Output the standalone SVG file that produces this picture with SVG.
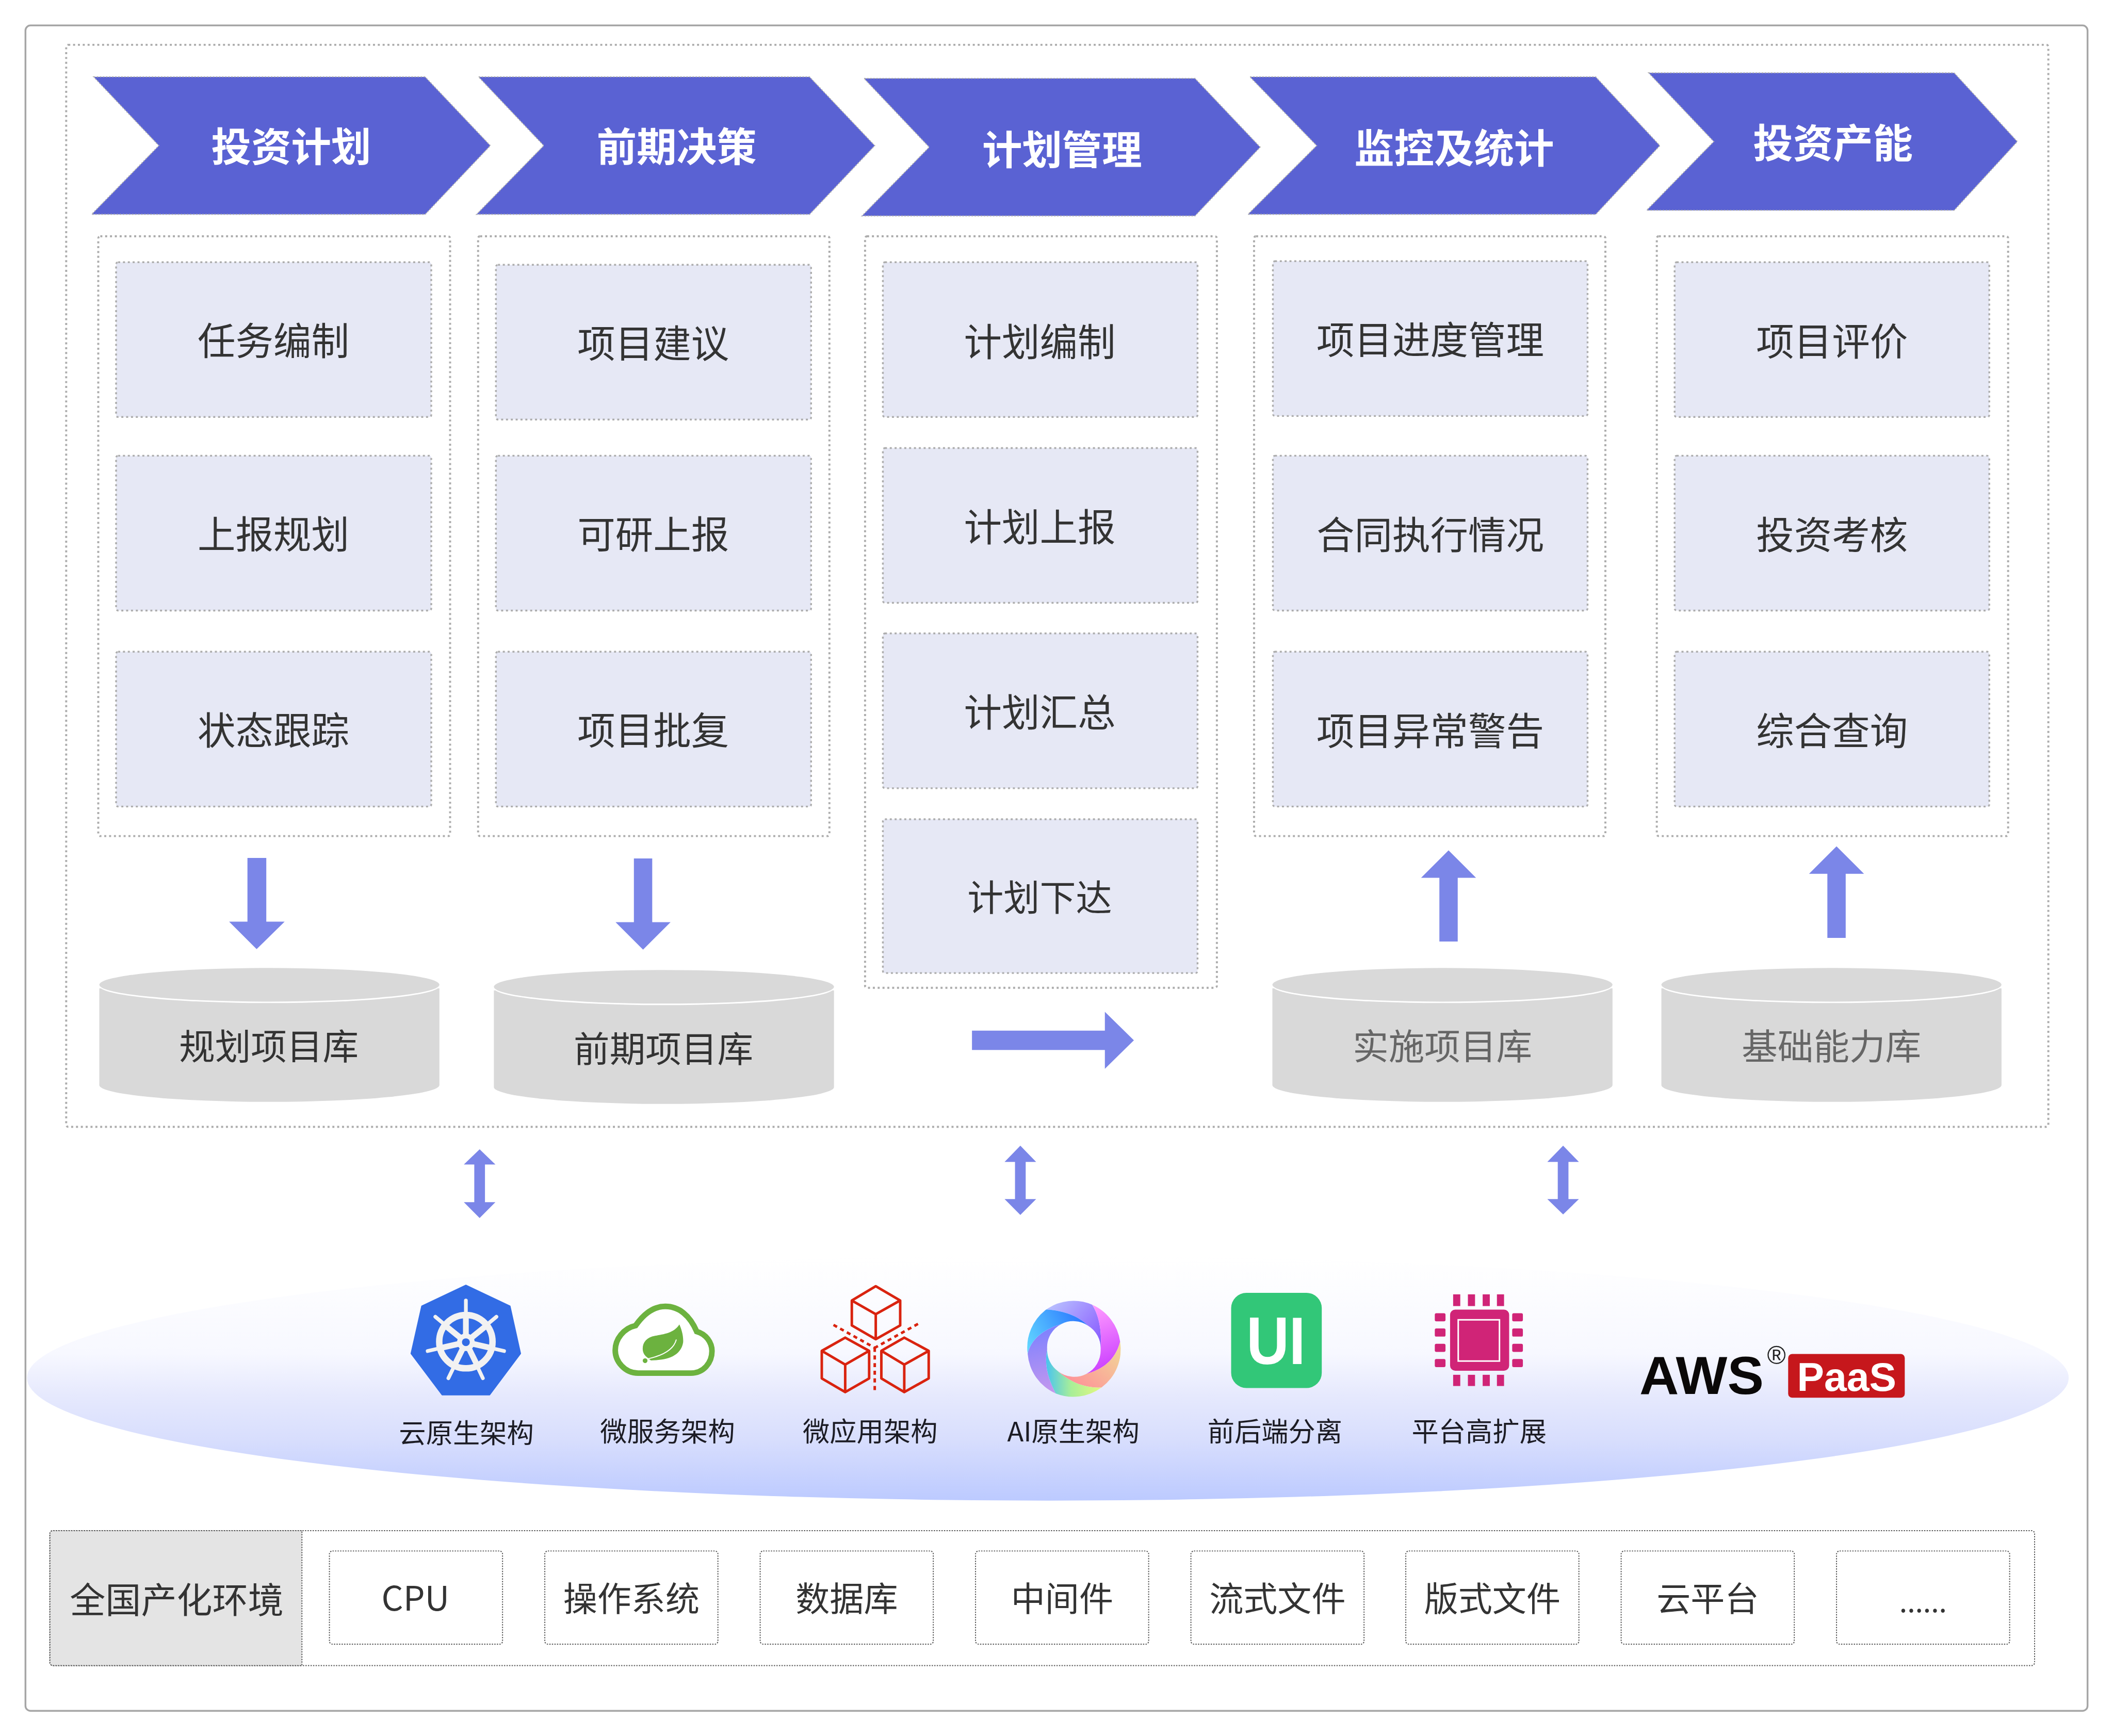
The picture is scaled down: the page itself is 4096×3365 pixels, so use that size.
<svg xmlns="http://www.w3.org/2000/svg" width="4096" height="3365" viewBox="0 0 4096 3365">
<style>
text{font-family:"Noto Sans CJK SC","Noto Sans",sans-serif;text-anchor:middle}
.dot{fill:none;stroke:#adadad;stroke-width:4;stroke-dasharray:4 5.5}
.chev{fill:#5a62d3;stroke:#adadad;stroke-width:2;stroke-dasharray:3 3}
.chevt{font-size:78.5px;font-weight:700;fill:#fff}
.item{fill:#e6e8f5;stroke:#adadad;stroke-width:3.5;stroke-dasharray:4 5.5}
.itemt{font-size:74.5px;fill:#333}
.cyl{fill:#d9d9d9}
.cylt{font-size:70.5px;fill:#333}
.arrow{fill:#7b86e8}
.lab{font-size:53px;fill:#1c1c24}
.env{fill:#fff;stroke:#555;stroke-width:2;stroke-dasharray:2.5 2.5}
.envt{font-size:67px;fill:#333}
.logo{font-family:"Liberation Sans",sans-serif}
</style>
<defs>
<linearGradient id="band" x1="0" y1="0" x2="0" y2="1">
<stop offset="0" stop-color="#ffffff"/>
<stop offset="0.4" stop-color="#f7f8ff"/>
<stop offset="0.57" stop-color="#e6e9fd"/>
<stop offset="0.75" stop-color="#d8defd"/>
<stop offset="1" stop-color="#bccaff"/>
</linearGradient>
<linearGradient id="ba" x1="0" y1="0" x2="1" y2="0.8"><stop offset="0" stop-color="#bcc8ff"/><stop offset="1" stop-color="#8a5cff"/></linearGradient>
<linearGradient id="bb" x1="0.3" y1="0" x2="0.5" y2="1"><stop offset="0" stop-color="#ff9cff"/><stop offset="1" stop-color="#c93cff"/></linearGradient>
<linearGradient id="bc" x1="1" y1="0" x2="0" y2="0.8"><stop offset="0" stop-color="#f0dc98"/><stop offset="1" stop-color="#ff8c98"/></linearGradient>
<linearGradient id="bd" x1="0" y1="0" x2="1" y2="0"><stop offset="0" stop-color="#48c4f0"/><stop offset="0.45" stop-color="#a8ee98"/><stop offset="1" stop-color="#e4f880"/></linearGradient>
<linearGradient id="be" x1="0.5" y1="0" x2="0.6" y2="1"><stop offset="0" stop-color="#7a80ff"/><stop offset="1" stop-color="#c498ee"/></linearGradient>
<linearGradient id="bf" x1="0" y1="0.8" x2="1" y2="0.4"><stop offset="0" stop-color="#60d4ff"/><stop offset="1" stop-color="#2c78ff"/></linearGradient>
</defs>
<rect width="4096" height="3365" fill="#fff"/>
<g transform="scale(0.98699)">
<g id="frame"><rect x="50" y="50" width="4050" height="3310" rx="10" fill="#fff" stroke="#a6a6a6" stroke-width="3.5"/></g>
<g id="process-frame"><rect x="130" y="88" width="3893" height="2125" rx="4" class="dot"/></g>

<g id="phase-1"><polygon class="chev" points="184,151 835,151 963,286 835,421 180,421 312,286"/><text class="chevt" x="572" y="317">投资计划</text></g>
<g id="phase-2"><polygon class="chev" points="940,151 1590,151 1718,286 1590,421 936,421 1068,286"/><text class="chevt" x="1329" y="317">前期决策</text></g>
<g id="phase-3"><polygon class="chev" points="1697,154 2347,154 2475,289 2347,424 1693,424 1825,289"/><text class="chevt" x="2086" y="323">计划管理</text></g>
<g id="phase-4"><polygon class="chev" points="2455,151 3134,151 3260,286 3134,421 2451,421 2586,286"/><text class="chevt" x="2856" y="320">监控及统计</text></g>
<g id="phase-5"><polygon class="chev" points="3238,143 3838,143 3962,278 3838,413 3234,413 3366,278"/><text class="chevt" x="3600" y="310">投资产能</text></g>

<g id="column-1"><rect class="dot" x="193" y="464" width="691" height="1178" rx="4"/>
<g id="n-1-1"><rect class="item" x="228" y="515" width="619" height="304" rx="4"/><text class="itemt" x="537" y="697">任务编制</text></g>
<g id="n-1-2"><rect class="item" x="228" y="895" width="619" height="304" rx="4"/><text class="itemt" x="537" y="1077">上报规划</text></g>
<g id="n-1-3"><rect class="item" x="228" y="1280" width="619" height="304" rx="4"/><text class="itemt" x="537" y="1462">状态跟踪</text></g>
</g>
<g id="column-2"><rect class="dot" x="939" y="464" width="690" height="1178" rx="4"/>
<g id="n-2-1"><rect class="item" x="974" y="520" width="619" height="304" rx="4"/><text class="itemt" x="1283" y="702">项目建议</text></g>
<g id="n-2-2"><rect class="item" x="974" y="895" width="619" height="304" rx="4"/><text class="itemt" x="1283" y="1077">可研上报</text></g>
<g id="n-2-3"><rect class="item" x="974" y="1280" width="619" height="304" rx="4"/><text class="itemt" x="1283" y="1462">项目批复</text></g>
</g>
<g id="column-3"><rect class="dot" x="1699" y="464" width="691" height="1476" rx="4"/>
<g id="n-3-1"><rect class="item" x="1734" y="515" width="618" height="304" rx="4"/><text class="itemt" x="2042" y="699">计划编制</text></g>
<g id="n-3-2"><rect class="item" x="1734" y="880" width="618" height="304" rx="4"/><text class="itemt" x="2042" y="1063">计划上报</text></g>
<g id="n-3-3"><rect class="item" x="1734" y="1244" width="618" height="304" rx="4"/><text class="itemt" x="2042" y="1427">计划汇总</text></g>
<g id="n-3-4"><rect class="item" x="1734" y="1609" width="618" height="302" rx="4"/><text class="itemt" x="2042" y="1789" style="font-size:71px">计划下达</text></g>
</g>
<g id="column-4"><rect class="dot" x="2463" y="464" width="690" height="1178" rx="4"/>
<g id="n-4-1"><rect class="item" x="2500" y="513" width="618" height="304" rx="4"/><text class="itemt" x="2809" y="695">项目进度管理</text></g>
<g id="n-4-2"><rect class="item" x="2500" y="895" width="618" height="304" rx="4"/><text class="itemt" x="2809" y="1078">合同执行情况</text></g>
<g id="n-4-3"><rect class="item" x="2500" y="1280" width="618" height="304" rx="4"/><text class="itemt" x="2809" y="1463">项目异常警告</text></g>
</g>
<g id="column-5"><rect class="dot" x="3254" y="464" width="690" height="1178" rx="4"/>
<g id="n-5-1"><rect class="item" x="3289" y="515" width="618" height="304" rx="4"/><text class="itemt" x="3598" y="698">项目评价</text></g>
<g id="n-5-2"><rect class="item" x="3289" y="895" width="618" height="304" rx="4"/><text class="itemt" x="3598" y="1078">投资考核</text></g>
<g id="n-5-3"><rect class="item" x="3289" y="1280" width="618" height="304" rx="4"/><text class="itemt" x="3598" y="1463">综合查询</text></g>
</g>

<g id="db-1"><path class="cyl" d="M195,1941V2131A334,33 0 0 0 863,2131V1941Z"/><ellipse cx="529" cy="1936.5" rx="334" ry="33.5" fill="#fff"/><ellipse class="cyl" cx="529" cy="1934" rx="334" ry="33"/><text class="cylt" x="528" y="2081">规划项目库</text></g>
<g id="db-2"><path class="cyl" d="M970,1945V2135A334,33 0 0 0 1638,2135V1945Z"/><ellipse cx="1304" cy="1940.5" rx="334" ry="33.5" fill="#fff"/><ellipse class="cyl" cx="1304" cy="1938" rx="334" ry="33"/><text class="cylt" x="1303" y="2086">前期项目库</text></g>
<g id="db-3"><path class="cyl" d="M2499,1941V2131A334,33 0 0 0 3167,2131V1941Z"/><ellipse cx="2833" cy="1936.5" rx="334" ry="33.5" fill="#fff"/><ellipse class="cyl" cx="2833" cy="1934" rx="334" ry="33"/><text class="cylt" x="2833" y="2081" style="fill:#666">实施项目库</text></g>
<g id="db-4"><path class="cyl" d="M3263,1941V2131A334,33 0 0 0 3931,2131V1941Z"/><ellipse cx="3597" cy="1936.5" rx="334" ry="33.5" fill="#fff"/><ellipse class="cyl" cx="3597" cy="1934" rx="334" ry="33"/><text class="cylt" x="3597" y="2081" style="fill:#666">基础能力库</text></g>

<g id="connectors">
<polygon class="arrow" points="486,1685 523,1685 523,1810 559,1810 504,1864 450,1810 486,1810"/>
<polygon class="arrow" points="1245,1686 1281,1686 1281,1811 1317,1811 1263,1865 1209,1811 1245,1811"/>
<polygon class="arrow" points="2827,1849 2863,1849 2863,1724 2899,1724 2845,1670 2791,1724 2827,1724"/>
<polygon class="arrow" points="3589,1842 3625,1842 3625,1716 3661,1716 3607,1662 3553,1716 3589,1716"/>
<polygon class="arrow" points="1909,2024 2170,2024 2170,1987 2227,2043 2170,2099 2170,2062 1909,2062"/>
<polygon class="arrow" points="942,2257 973,2287 952.5,2287 952.5,2361 973,2361 942,2392 911,2361 931.5,2361 931.5,2287 911,2287"/>
<polygon class="arrow" points="2004,2250 2035,2282 2014.5,2282 2014.5,2355 2035,2355 2004,2386 1973,2355 1993.5,2355 1993.5,2282 1973,2282"/>
<polygon class="arrow" points="3070,2250 3101,2282 3080.5,2282 3080.5,2355 3101,2355 3070,2385 3039,2355 3059.5,2355 3059.5,2282 3039,2282"/>
</g>

<g id="platform-band"><ellipse cx="2058" cy="2706" rx="2005" ry="241" fill="url(#band)"/></g>

<g id="tech-k8s">
<g transform="translate(790 2510) scale(.33333)">
<polygon points="375,42 635,165 697,445 515,688 235,688 52,445 115,165" fill="#326ce5" stroke="#326ce5" stroke-width="6" stroke-linejoin="round"/>
<g fill="none" stroke="#f2f2f2" stroke-linecap="round">
<circle cx="375" cy="375" r="157" stroke-width="38"/>
<path stroke-width="22" d="M375,378V132M375,378L555,228M375,378L600,430M375,378L475,590M375,378L272,590M375,378L150,430M375,378L195,228"/>
<path stroke-width="34" stroke-linecap="butt" d="M375,378V230M375,378L490,285M375,378L515,410M375,378L440,510M375,378L310,510M375,378L235,410M375,378L260,285"/>
</g>
<circle cx="375" cy="378" r="52" fill="#f2f2f2"/><circle cx="375" cy="378" r="23" fill="#326ce5"/>
</g>
<text class="lab" x="916" y="2834">云原生架构</text>
</g>
<g id="tech-spring">
<g transform="translate(1190 2540) scale(.33333)">
<path d="M190,470C110,470 55,400 55,335C55,270 105,205 175,190C220,125 280,77 350,77C430,77 495,130 535,225C590,240 625,290 625,340C625,410 575,470 500,470Z" fill="#fff" stroke="#6cb23f" stroke-width="33"/>
<path d="M433,183C400,235 340,240 290,250C240,258 215,290 217,330C218,350 228,365 240,375L265,395C340,395 440,380 455,290C458,250 445,210 433,183Z" fill="#6cb23f"/>
<path d="M415,272C400,330 340,365 250,385" fill="none" stroke="#fff" stroke-width="6"/>
<circle cx="231" cy="397" r="14" fill="#6cb23f"/>
</g>
<text class="lab" x="1311" y="2831">微服务架构</text>
</g>
<g id="tech-microapp">
<g fill="none" stroke="#d9230f" stroke-width="5" stroke-linejoin="round">
<path d="M1720,2526L1768,2554V2603L1720,2630L1673,2603V2554ZM1673,2554L1720,2581L1768,2554M1720,2581V2630"/>
<path d="M1660,2627L1707,2653V2707L1660,2734L1614,2707V2653ZM1614,2653L1660,2680L1707,2653M1660,2680V2734"/>
<path d="M1776,2627L1824,2653V2707L1776,2734L1731,2707V2653ZM1731,2653L1776,2680L1824,2653M1776,2680V2734"/>
<path stroke-dasharray="8 7" d="M1637,2602L1718,2647M1803,2600L1718,2647M1718,2647V2730"/>
</g>
<text class="lab" x="1709" y="2831">微应用架构</text>
</g>
<g id="tech-ai">
<g transform="translate(1990 2530) scale(.33333)">
<path fill="url(#ba)" d="M195,125A280,280 0 0 1 465,97C500,150 525,240 515,360A155,155 0 0 0 440,220C370,150 270,130 195,125Z"/>
<path fill="url(#bb)" d="M465,97A280,280 0 0 1 630,315C600,430 520,480 430,505A155,155 0 0 0 515,360C525,240 500,150 465,97Z"/>
<path fill="url(#bc)" d="M630,315A280,280 0 0 1 520,585C420,590 330,550 265,490A155,155 0 0 0 430,505C520,480 600,430 630,315Z"/>
<path fill="url(#bd)" d="M520,585A280,280 0 0 1 250,620C210,540 180,460 200,360A155,155 0 0 0 265,490C330,550 420,590 520,585Z"/>
<path fill="url(#be)" d="M250,620A280,280 0 0 1 85,385C105,300 180,240 285,210A155,155 0 0 0 200,360C180,460 210,540 250,620Z"/>
<path fill="url(#bf)" d="M85,385A280,280 0 0 1 195,125C270,130 370,150 440,220A155,155 0 0 0 285,210C180,240 105,300 85,385Z"/>
</g>
<text class="lab" x="2108" y="2831">AI原生架构</text>
</g>
<g id="tech-ui">
<rect x="2418" y="2539" width="178" height="187" rx="30" fill="#32c778"/>
<text class="logo" x="2506" y="2679" font-size="131" font-weight="700" fill="#fff" textLength="116" lengthAdjust="spacingAndGlyphs">UI</text>
<text class="lab" x="2504" y="2831">前后端分离</text>
</g>
<g id="tech-chip">
<rect x="2848" y="2572" width="116" height="120" rx="10" fill="#d02477"/>
<rect x="2864" y="2592" width="81" height="81" fill="none" stroke="#fff" stroke-width="3"/>
<g fill="#d02477">
<rect x="2854" y="2542" width="14" height="23"/><rect x="2883" y="2542" width="14" height="23"/><rect x="2912" y="2542" width="14" height="23"/><rect x="2940" y="2542" width="14" height="23"/>
<rect x="2854" y="2700" width="14" height="22"/><rect x="2883" y="2700" width="14" height="22"/><rect x="2912" y="2700" width="14" height="22"/><rect x="2940" y="2700" width="14" height="22"/>
<rect x="2818" y="2579" width="21" height="16" rx="3"/><rect x="2818" y="2609" width="21" height="16" rx="3"/><rect x="2818" y="2639" width="21" height="16" rx="3"/><rect x="2818" y="2669" width="21" height="16" rx="3"/>
<rect x="2970" y="2579" width="21" height="16" rx="3"/><rect x="2970" y="2609" width="21" height="16" rx="3"/><rect x="2970" y="2639" width="21" height="16" rx="3"/><rect x="2970" y="2669" width="21" height="16" rx="3"/>
</g>
<text class="lab" x="2905" y="2831">平台高扩展</text>
</g>
<g id="tech-aws">
<text class="logo" x="3342" y="2738" font-size="105" font-weight="700" fill="#0a0808" textLength="244" lengthAdjust="spacingAndGlyphs">AWS</text>
<text class="logo" x="3489" y="2679" font-size="50" fill="#222">®</text>
<rect x="3512" y="2659" width="229" height="86" rx="8" fill="#c6171c"/>
<text class="logo" x="3627" y="2732" font-size="78" font-weight="700" fill="#fff" textLength="195" lengthAdjust="spacingAndGlyphs">PaaS</text>
</g>

<g id="env">
<rect class="env" x="98" y="3006" width="3898" height="265" rx="6"/>
<path d="M98,3012a6,6 0 0 1 6,-6H593V3271H104a6,6 0 0 1 -6,-6Z" fill="#e4e4e4" stroke="#555" stroke-width="2" stroke-dasharray="2.5 2.5"/>
<text class="envt" x="347" y="3168" style="font-size:70px">全国产化环境</text>
<g id="env-1"><rect class="env" x="647" y="3046" width="340" height="183" rx="6"/><text class="envt" x="816" y="3163">CPU</text></g>
<g id="env-2"><rect class="env" x="1070" y="3046" width="340" height="183" rx="6"/><text class="envt" x="1240" y="3164">操作系统</text></g>
<g id="env-3"><rect class="env" x="1493" y="3046" width="340" height="183" rx="6"/><text class="envt" x="1663" y="3164">数据库</text></g>
<g id="env-4"><rect class="env" x="1916" y="3046" width="340" height="183" rx="6"/><text class="envt" x="2086" y="3164">中间件</text></g>
<g id="env-5"><rect class="env" x="2339" y="3046" width="340" height="183" rx="6"/><text class="envt" x="2509" y="3164">流式文件</text></g>
<g id="env-6"><rect class="env" x="2761" y="3046" width="340" height="183" rx="6"/><text class="envt" x="2931" y="3164">版式文件</text></g>
<g id="env-7"><rect class="env" x="3184" y="3046" width="340" height="183" rx="6"/><text class="envt" x="3354" y="3164">云平台</text></g>
<g id="env-8"><rect class="env" x="3607" y="3046" width="340" height="183" rx="6"/><text class="envt" x="3777" y="3166" style="font-size:56px">......</text></g>
</g>
</g>
</svg>
